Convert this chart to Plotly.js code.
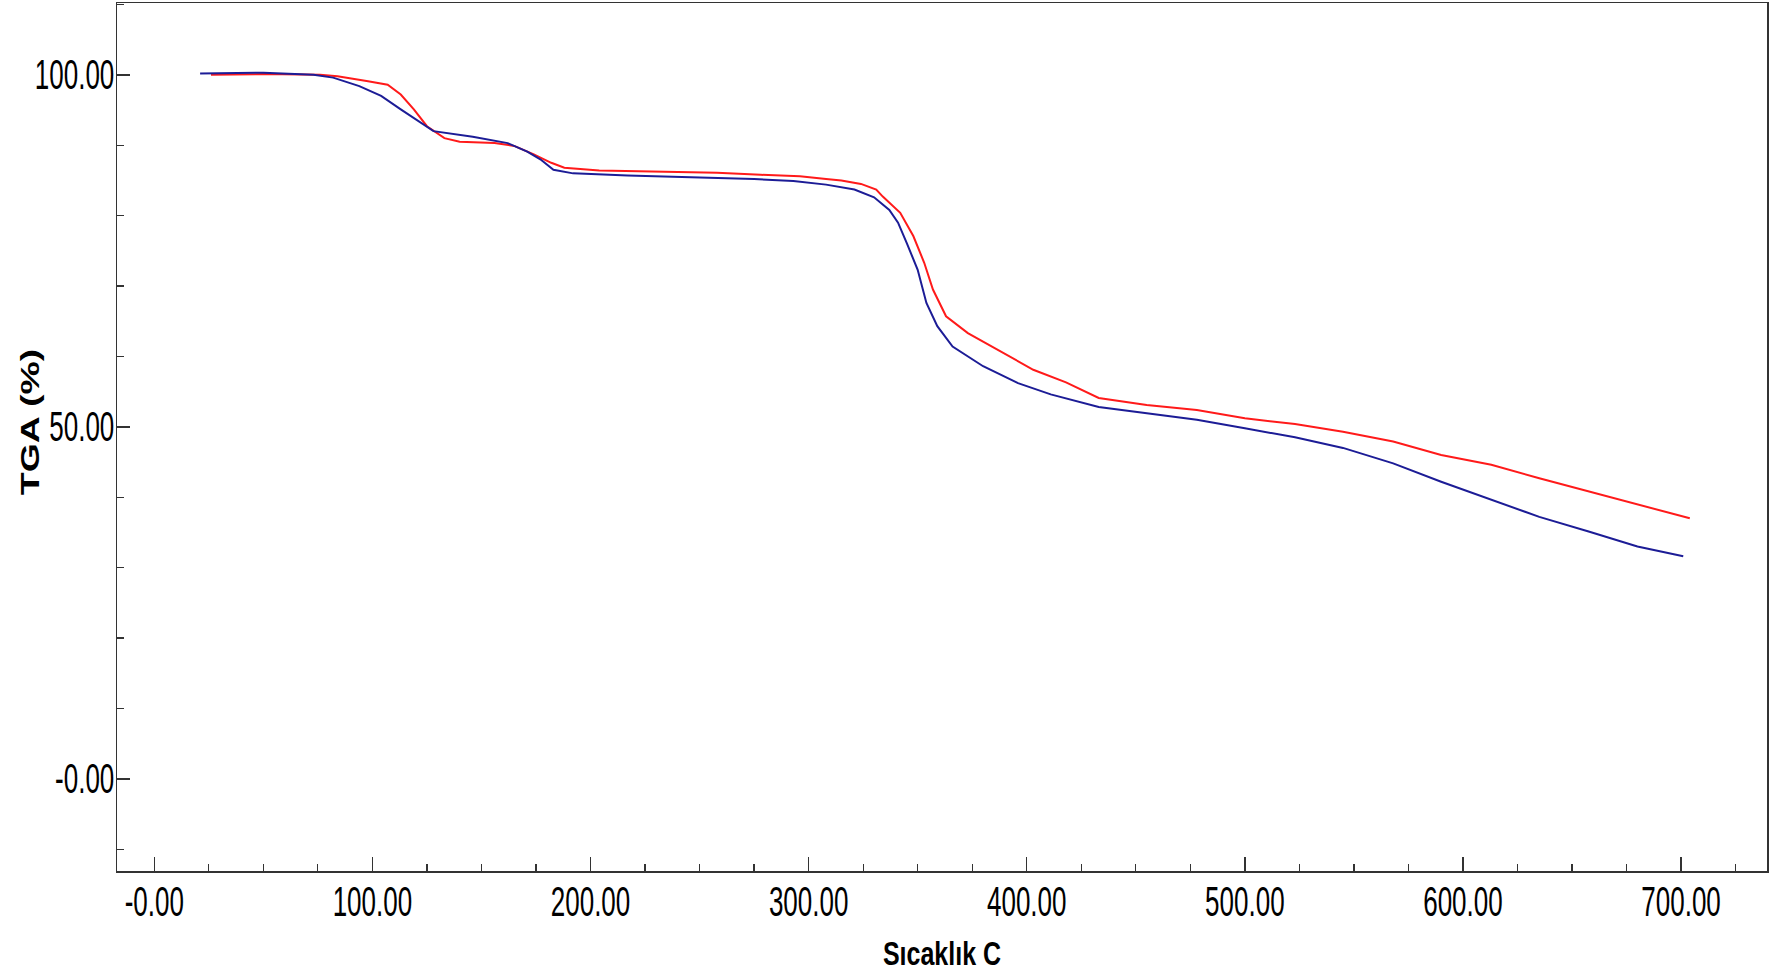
<!DOCTYPE html>
<html>
<head>
<meta charset="utf-8">
<script src="https://cdn.plot.ly/plotly-3.0.1.min.js"></script>
<style>
  html, body { margin: 0; padding: 0; background: #ffffff; }
  #chart { width: 1769px; height: 979px; }
  /* the original software draws tall, narrow lettering */
  #chart g.xtick { transform-box: fill-box; transform-origin: center top; transform: translateY(-8px) scaleY(1.6); }
  #chart g.ytick { transform-box: fill-box; transform-origin: right center; transform: translateX(4px) scaleY(1.6); }
  #chart g.g-xtitle { transform-box: fill-box; transform-origin: center; transform: translateY(-6px) scaleY(1.3); }
  #chart g.g-ytitle { transform-box: fill-box; transform-origin: center; transform: translate(18px, -15px) scaleY(1.5); }
</style>
</head>
<body>
<div id="chart"></div>
<script>
// Sample 2 (blue) — temperature (°C) and TGA (%)
const blueTemp = [21, 50, 73, 82, 94, 104, 113, 122, 128, 146, 162, 171, 177, 183, 192, 217, 255, 275, 293, 308, 321, 330, 337, 341, 345, 350, 354, 359, 366, 380, 396, 411, 433, 455, 478, 500, 523, 545, 568, 590, 613, 635, 658, 680, 701];
const blueTGA  = [100.2, 100.3, 100.0, 99.6, 98.4, 97.0, 95.1, 93.2, 92.0, 91.2, 90.3, 89.1, 88.0, 86.5, 86.0, 85.7, 85.4, 85.2, 84.9, 84.4, 83.7, 82.6, 80.8, 79.0, 76.1, 72.3, 67.6, 64.3, 61.4, 58.6, 56.2, 54.6, 52.8, 51.9, 51.0, 49.8, 48.5, 47.0, 44.8, 42.2, 39.6, 37.2, 35.1, 33.0, 31.6];

// Sample 1 (red)
const redTemp = [26, 50, 76, 84, 98, 107, 113, 119, 125, 133, 140, 156, 165, 174, 182, 188, 204, 232, 258, 278, 296, 308, 315, 324, 331, 334, 342, 348, 353, 357, 363, 373, 388, 403, 418, 433, 455, 478, 500, 523, 545, 568, 590, 613, 635, 658, 681, 704];
const redTGA  = [100.0, 100.1, 100.0, 99.8, 99.1, 98.6, 97.2, 95.1, 92.7, 91.0, 90.5, 90.3, 89.9, 88.7, 87.5, 86.8, 86.4, 86.2, 86.1, 85.8, 85.6, 85.2, 85.0, 84.5, 83.7, 82.7, 80.4, 77.1, 73.3, 69.5, 65.7, 63.3, 60.7, 58.1, 56.3, 54.1, 53.1, 52.4, 51.2, 50.4, 49.3, 47.9, 46.0, 44.6, 42.7, 40.8, 38.8, 37.0];

// Tick labels
const xTickVals = [0, 100, 200, 300, 400, 500, 600, 700];
const xTickText = ['-0.00', '100.00', '200.00', '300.00', '400.00', '500.00', '600.00', '700.00'];
const yTickVals = [0, 50, 100];
const yTickText = ['-0.00', '50.00', '100.00'];

const xTitle = 'Sıcaklık C';
const yTitle = 'TGA (%)';

const tickFont = { family: '"Liberation Sans", Arial, sans-serif', size: 26, color: '#000000' };

const traces = [
  { x: redTemp, y: redTGA, mode: 'lines', type: 'scatter', name: 'red', line: { color: '#ff1a1a', width: 2 } },
  { x: blueTemp, y: blueTGA, mode: 'lines', type: 'scatter', name: 'blue', line: { color: '#1c1c96', width: 2 } }
];

const layout = {
  width: 1769,
  height: 979,
  paper_bgcolor: '#ffffff',
  plot_bgcolor: '#ffffff',
  showlegend: false,
  margin: { l: 117, r: 2, t: 3, b: 108, pad: 0 },
  xaxis: {
    range: [-17.1, 739.4],
    tickmode: 'array',
    tickvals: xTickVals,
    ticktext: xTickText,
    ticks: 'inside',
    ticklen: 14,
    tickwidth: 1.5,
    tickcolor: '#333333',
    ticklabelstandoff: 6,
    minor: { tickmode: 'linear', tick0: 0, dtick: 25, ticks: 'inside', ticklen: 7, tickwidth: 1.2, tickcolor: '#333333', showgrid: false },
    showline: true,
    linecolor: '#333333',
    linewidth: 1.5,
    mirror: true,
    showgrid: false,
    zeroline: false,
    tickfont: tickFont,
    title: { text: xTitle, standoff: 36, font: { family: '"Liberation Sans", Arial, sans-serif', size: 25, weight: 'bold', color: '#000000' } }
  },
  yaxis: {
    range: [-13.1, 110.2],
    tickmode: 'array',
    tickvals: yTickVals,
    ticktext: yTickText,
    ticks: 'inside',
    ticklen: 13,
    tickwidth: 1.5,
    tickcolor: '#333333',
    minor: { tickmode: 'linear', tick0: 0, dtick: 10, ticks: 'inside', ticklen: 7, tickwidth: 1.2, tickcolor: '#333333', showgrid: false },
    showline: true,
    linecolor: '#333333',
    linewidth: 1.5,
    mirror: true,
    showgrid: false,
    zeroline: false,
    tickfont: tickFont,
    title: { text: yTitle, standoff: 2, font: { family: '"Liberation Sans", Arial, sans-serif', size: 25, weight: 'bold', color: '#000000' } }
  }
};

Plotly.newPlot('chart', traces, layout, { displayModeBar: false, staticPlot: true });
</script>
</body>
</html>
